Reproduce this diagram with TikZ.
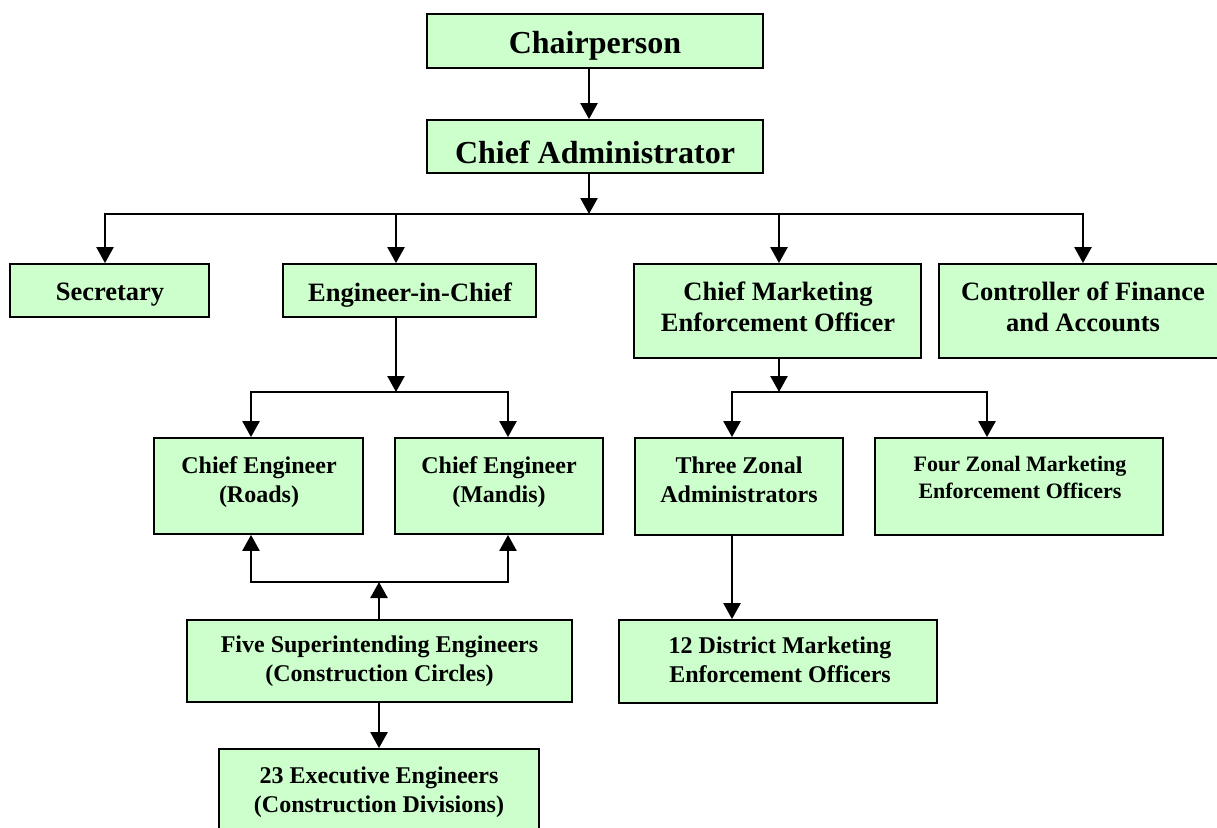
\documentclass[tikz,border=0pt]{standalone}
\usepackage{fontspec}
\setmainfont{Liberation Serif}
\usetikzlibrary{arrows.meta}
\definecolor{boxgreen}{HTML}{CCFFCC}
\tikzset{
  box/.style={draw=black, line width=1.8pt, fill=boxgreen, inner sep=0pt},
  ttop/.style={font=\fontsize{32}{38}\selectfont\bfseries, align=center, inner sep=0pt},
  tmid/.style={font=\fontsize{26.5}{31}\selectfont\bfseries, align=center, inner sep=0pt},
  tlow/.style={font=\fontsize{24}{28.5}\selectfont\bfseries, align=center, inner sep=0pt},
  tsmall/.style={font=\fontsize{22}{27}\selectfont\bfseries, align=center, inner sep=0pt},
  ln/.style={line width=2.4pt, line cap=rect},
  arr/.style={line width=2.4pt, -{Triangle[width=17pt,length=16pt]}},
}
\begin{document}
\begin{tikzpicture}[x=1pt,y=-1pt]
\useasboundingbox (0,0) rectangle (1217,827);
\clip (0,0) rectangle (1217,827);
\fill[white] (0,0) rectangle (1217,827);

% boxes
\node[box, minimum width=336pt, minimum height=54pt] (chair) at (595,41) {};
\node[box, minimum width=336pt, minimum height=53pt] (ca) at (595,146.5) {};
\node[box, minimum width=199pt, minimum height=53pt] (sec) at (109.5,290.5) {};
\node[box, minimum width=253pt, minimum height=53pt] (eic) at (409.5,290.5) {};
\node[box, minimum width=287pt, minimum height=94pt] (cmeo) at (777.5,311) {};
\node[box, minimum width=289pt, minimum height=94pt] (cfa) at (1083.5,311) {};
\node[box, minimum width=209pt, minimum height=96pt] (cer) at (258.5,486) {};
\node[box, minimum width=208pt, minimum height=96pt] (cem) at (499,486) {};
\node[box, minimum width=208pt, minimum height=97pt] (tz) at (739,486.5) {};
\node[box, minimum width=288pt, minimum height=97pt] (fz) at (1019,486.5) {};
\node[box, minimum width=385pt, minimum height=82pt] (fse) at (379.5,661) {};
\node[box, minimum width=318pt, minimum height=83pt] (dm) at (778,661.5) {};
\node[box, minimum width=320pt, minimum height=102pt] (ee) at (379,800) {};

% texts
\node[ttop] (chair-t) at (595,46) {Chairperson};
\node[ttop] (ca-t) at (595,152) {Chief Administrator};
\node[tmid] (sec-t) at (110,295) {Secretary};
\node[tmid] (eic-t) at (410,295) {Engineer-in-Chief};
\node[tmid] (cmeo-t) at (778,307) {Chief Marketing\\Enforcement Officer};
\node[tmid] (cfa-t) at (1083,307) {Controller of Finance\\and Accounts};
\node[tlow] (cer-t) at (259,482) {Chief Engineer\\(Roads)};
\node[tlow] (cem-t) at (499,482) {Chief Engineer\\(Mandis)};
\node[tlow] (tz-t) at (739,480) {Three Zonal\\Administrators};
\node[tsmall] (fz-t) at (1020,477) {Four Zonal Marketing\\Enforcement Officers};
\node[tlow] (fse-t) at (379.5,661) {Five Superintending Engineers\\(Construction Circles)};
\node[tlow] (dm-t) at (780,660) {12 District Marketing\\Enforcement Officers};
\node[tlow] (ee-t) at (379,792) {23 Executive Engineers\\(Construction Divisions)};

% connector points
\coordinate (b1) at (589,214);
\coordinate (b1l) at (105,214);
\coordinate (b1e) at (396,214);
\coordinate (b1c) at (779,214);
\coordinate (b1r) at (1083,214);
\coordinate (b2) at (396,392);
\coordinate (b2l) at (251,392);
\coordinate (b2r) at (508,392);
\coordinate (b3) at (379,582);
\coordinate (b3l) at (251,582);
\coordinate (b3r) at (508,582);
\coordinate (b4) at (779,392);
\coordinate (b4l) at (732,392);
\coordinate (b4r) at (987,392);

% connectors
\draw[arr] (chair.south -| b1) -- (ca.north -| b1);
\draw[arr] (ca.south -| b1) -- (b1);
\draw[ln] (b1l) -- (b1r);
\draw[arr] (b1l) -- (b1l |- sec.north);
\draw[arr] (b1e) -- (b1e |- eic.north);
\draw[arr] (b1c) -- (b1c |- cmeo.north);
\draw[arr] (b1r) -- (b1r |- cfa.north);

\draw[arr] (eic.south -| b2) -- (b2);
\draw[ln] (b2l) -- (b2r);
\draw[arr] (b2l) -- (b2l |- cer.north);
\draw[arr] (b2r) -- (b2r |- cem.north);

\draw[arr] (fse.north -| b3) -- (b3);
\draw[ln] (b3l) -- (b3r);
\draw[arr] (b3l) -- (b3l |- cer.south);
\draw[arr] (b3r) -- (b3r |- cem.south);
\draw[arr] (fse.south -| b3) -- (ee.north -| b3);

\draw[arr] (cmeo.south -| b4) -- (b4);
\draw[ln] (b4l) -- (b4r);
\draw[arr] (b4l) -- (b4l |- tz.north);
\draw[arr] (b4r) -- (b4r |- fz.north);
\draw[arr] (tz.south -| b4l) -- (dm.north -| b4l);
\end{tikzpicture}
\end{document}
